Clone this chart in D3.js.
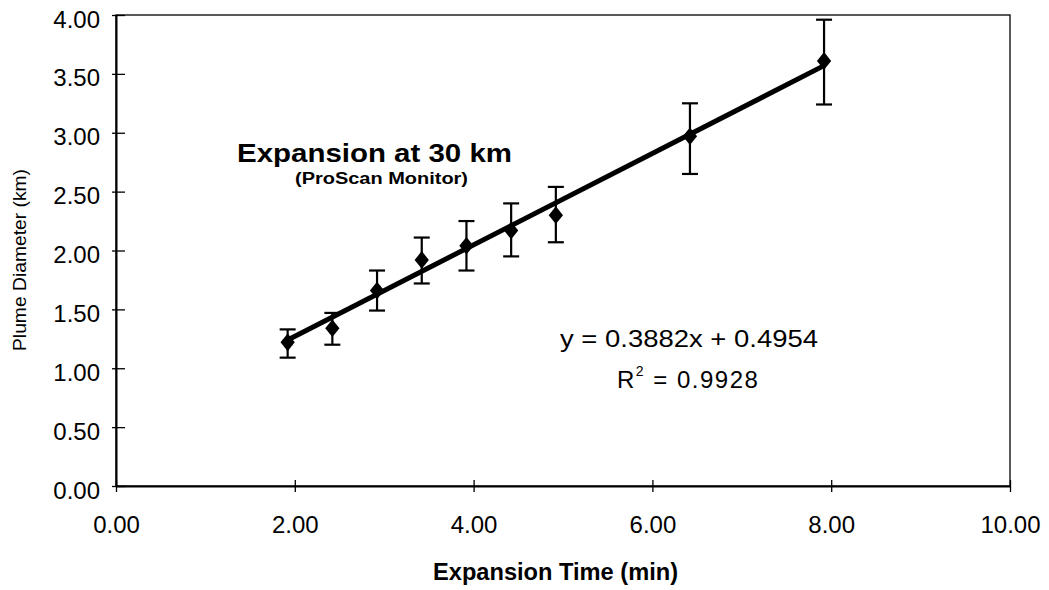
<!DOCTYPE html>
<html><head><meta charset="utf-8">
<script src="https://cdn.jsdelivr.net/npm/d3@7"></script>
<style>
body{margin:0;background:#fff;}
text{font-family:"Liberation Sans",Arial,sans-serif;fill:#000;}
</style></head>
<body>
<svg id="chart" width="1049" height="590"></svg>
<script>
const times = [1.92, 2.42, 2.92, 3.42, 3.92, 4.42, 4.92, 6.42, 7.92];
const diameters = [1.22, 1.34, 1.66, 1.92, 2.04, 2.17, 2.30, 2.97, 3.61];
const errLow = [1.09, 1.20, 1.49, 1.72, 1.83, 1.95, 2.07, 2.65, 3.24];
const errHigh = [1.33, 1.47, 1.83, 2.11, 2.25, 2.40, 2.54, 3.25, 3.96];
const xTicks = [0, 2, 4, 6, 8, 10];
const yTicks = [0, 0.5, 1, 1.5, 2, 2.5, 3, 3.5, 4];
const slope = 0.3882, intercept = 0.4954, r2 = 0.9928;

const svg = d3.select("#chart");
const x = d3.scaleLinear().domain([0, 10]).range([116, 1010]);
const y = d3.scaleLinear().domain([0, 4]).range([486, 15]);

// plot border
svg.append("rect").attr("x", x(0)).attr("y", y(4)).attr("width", x(10) - x(0)).attr("height", y(0) - y(4))
  .attr("fill", "none").attr("stroke", "#000").attr("stroke-width", 1.3);

const xAxis = svg.append("g").attr("transform", `translate(0,${y(0)})`)
  .call(d3.axisBottom(x).tickValues(xTicks).tickFormat(d3.format(".2f")).tickSize(12).tickSizeOuter(0));
xAxis.select(".domain").attr("stroke-width", 2);
xAxis.selectAll(".tick line").attr("transform", "translate(0,-6)").attr("stroke-width", 1.3);
xAxis.selectAll("text").attr("font-size", 24).attr("y", 30).attr("dy", "0.71em")
  .style("font-family", "Liberation Sans, Arial, sans-serif").style("font-size", "24px");

const yAxis = svg.append("g").attr("transform", `translate(${x(0)},0)`)
  .call(d3.axisLeft(y).tickValues(yTicks).tickFormat(d3.format(".2f")).tickSize(13).tickSizeOuter(0));
yAxis.select(".domain").attr("stroke-width", 2);
yAxis.selectAll(".tick line").attr("transform", "translate(9,0)").attr("stroke-width", 1.3);
yAxis.selectAll("text").attr("font-size", 24).attr("x", -16).attr("dy", "0.5em")
  .style("font-family", "Liberation Sans, Arial, sans-serif").style("font-size", "24px");
svg.selectAll(".tick text").attr("fill", "#000");

// trendline
svg.append("line")
  .attr("x1", x(times[0])).attr("y1", y(slope * times[0] + intercept))
  .attr("x2", x(times[times.length - 1])).attr("y2", y(slope * times[times.length - 1] + intercept))
  .attr("stroke", "#000").attr("stroke-width", 5);

// error bars
const eb = svg.append("g").attr("stroke", "#000").attr("stroke-width", 2.2);
times.forEach((t, i) => {
  eb.append("line").attr("x1", x(t)).attr("x2", x(t)).attr("y1", y(errLow[i])).attr("y2", y(errHigh[i]));
  eb.append("line").attr("x1", x(t) - 8).attr("x2", x(t) + 8).attr("y1", y(errLow[i])).attr("y2", y(errLow[i]));
  eb.append("line").attr("x1", x(t) - 8).attr("x2", x(t) + 8).attr("y1", y(errHigh[i])).attr("y2", y(errHigh[i]));
});

// markers
svg.append("g").selectAll("path").data(times).join("path")
  .attr("d", d3.symbol(d3.symbolDiamond, 90))
  .attr("transform", (d, i) => `translate(${x(d)},${y(diameters[i])}) scale(1.4,1)`)
  .attr("fill", "#000");

// titles
svg.append("text").attr("x", 237).attr("y", 162)
  .attr("font-size", 26).attr("font-weight", "bold")
  .attr("textLength", 275).attr("lengthAdjust", "spacingAndGlyphs").text("Expansion at 30 km");
svg.append("text").attr("x", 295).attr("y", 184)
  .attr("font-size", 16).attr("font-weight", "bold")
  .attr("textLength", 173).attr("lengthAdjust", "spacingAndGlyphs").text("(ProScan Monitor)");

// equation
svg.append("text").attr("x", 560).attr("y", 347)
  .attr("font-size", 23).attr("textLength", 258).attr("lengthAdjust", "spacingAndGlyphs")
  .text(`y = ${slope}x + ${intercept}`);
const r = svg.append("text").attr("x", 617).attr("y", 388).attr("font-size", 24).attr("letter-spacing", 1.5);
r.append("tspan").text("R");
r.append("tspan").attr("font-size", 14).attr("dy", -12).text("2");
r.append("tspan").attr("dy", 12).text(` = ${r2}`);

// axis titles
svg.append("text").attr("x", 433).attr("y", 580)
  .attr("font-size", 23).attr("font-weight", "bold")
  .attr("textLength", 245).attr("lengthAdjust", "spacingAndGlyphs").text("Expansion Time (min)");
svg.append("text").attr("transform", "translate(26,260) rotate(-90)").attr("text-anchor", "middle")
  .attr("font-size", 19).attr("font-family", "DejaVu Sans Condensed, Liberation Sans Narrow, sans-serif")
  .attr("font-stretch", "condensed").attr("font-weight", 300).attr("fill", "#333")
  .attr("textLength", 182).attr("lengthAdjust", "spacingAndGlyphs").text("Plume Diameter (km)");
</script>
</body></html>
